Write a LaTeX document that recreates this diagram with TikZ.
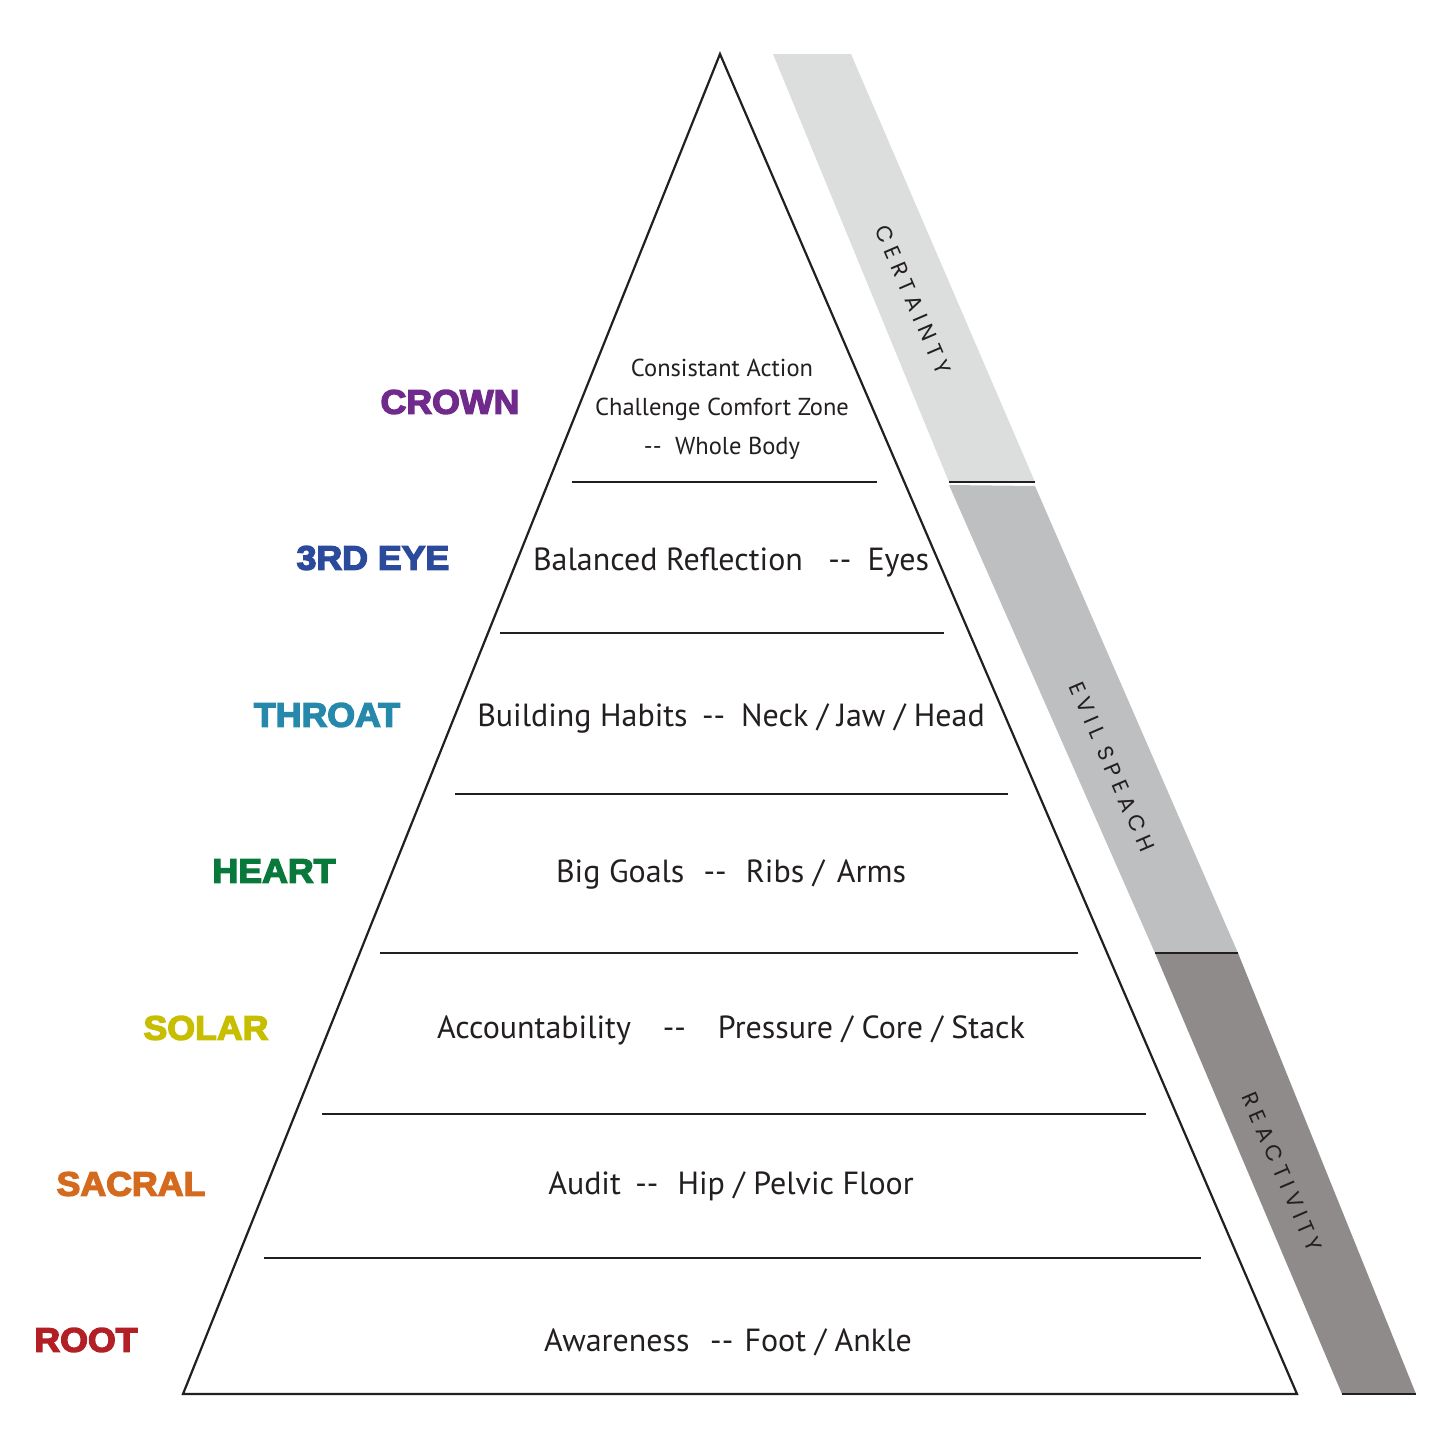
\documentclass[tikz,border=0pt]{standalone}
\usepackage{fontspec}
\setmainfont{PT Sans}
\newfontfamily\labfont[FakeBold=4,FakeStretch=1.05]{Liberation Sans Bold}
\newfontfamily\bandfont[LetterSpace=26]{Poppins}
\definecolor{ink}{HTML}{231F20}
\definecolor{bandA}{HTML}{DCDDDD}
\definecolor{bandB}{HTML}{BEBFC1}
\definecolor{bandC}{HTML}{8E8B8A}
\definecolor{cCrown}{HTML}{6F2A8B}
\definecolor{cEye}{HTML}{2B4A9B}
\definecolor{cThroat}{HTML}{2688AA}
\definecolor{cHeart}{HTML}{08793A}
\definecolor{cSolar}{HTML}{C7BE00}
\definecolor{cSacral}{HTML}{D46A1E}
\definecolor{cRoot}{HTML}{B22025}
\newcommand\dd{-{}-}
\begin{document}
\begin{tikzpicture}[x=1pt,y=-1pt,
  edge/.style={draw=ink,line width=2.2pt,line join=miter},
  tier/.style={draw=ink,line width=2pt},
  main/.style={text=ink,font=\fontsize{32}{36}\selectfont,inner sep=0pt,anchor=center},
  small/.style={text=ink,font=\fontsize{24.5}{39}\selectfont,inner sep=0pt,align=center},
  chakra/.style={font=\labfont\fontsize{34}{40}\selectfont,inner sep=0pt},
  bandtxt/.style={text=ink,font=\bandfont\fontsize{22}{24}\selectfont,inner sep=0pt,rotate=-66.7}]
\useasboundingbox (0,0) rectangle (1430,1440);
\fill[white] (0,0) rectangle (1430,1440);
% bands
\fill[bandA] (773,54) -- (851,54) -- (1035,482) -- (949,482) -- cycle;
\fill[bandB] (949,485) -- (1035,486) -- (1238,953) -- (1155,953) -- cycle;
\fill[bandC] (1155,953) -- (1238,953) -- (1416,1394) -- (1342,1394) -- cycle;
\coordinate (b1l) at (949,482); \coordinate (b1r) at (1035,482);
\coordinate (b2l) at (1155,953); \coordinate (b2r) at (1238,953);
\coordinate (b3l) at (1342,1394); \coordinate (b3r) at (1416,1394);
\draw[tier] (b1l) -- (b1r);
\draw[tier] (b2l) -- (b2r);
\draw[tier] (b3l) -- (b3r);
\node[bandtxt] (cert) at (913,300) {CERTAINTY};
\node[bandtxt] (evil) at (1112,767) {EVIL SPEACH};
\node[bandtxt] (react) at (1282,1172) {REACTIVITY};
% pyramid
\coordinate (apex) at (720,54);
\coordinate (bl) at (183,1394);
\coordinate (br) at (1297,1394);
\draw[edge] (apex) -- (br) -- (bl) -- cycle;
% tiers
\coordinate (t1a) at (572,482);  \coordinate (t1b) at (877,482);
\coordinate (t2a) at (500,633);  \coordinate (t2b) at (944,633);
\coordinate (t3a) at (455,794);  \coordinate (t3b) at (1008,794);
\coordinate (t4a) at (380,953);  \coordinate (t4b) at (1078,953);
\coordinate (t5a) at (322,1114); \coordinate (t5b) at (1146,1114);
\coordinate (t6a) at (264,1258); \coordinate (t6b) at (1201,1258);
\draw[tier] (t1a) -- (t1b);
\draw[tier] (t2a) -- (t2b);
\draw[tier] (t3a) -- (t3b);
\draw[tier] (t4a) -- (t4b);
\draw[tier] (t5a) -- (t5b);
\draw[tier] (t6a) -- (t6b);
% texts
\node[small] (crowntxt) at (722,409) {Consistant Action\\Challenge Comfort Zone\\\dd\hspace{0.55em}Whole Body};
\node[main] (eyetxt) at (731,562) {Balanced Reflection\hspace{0.8em}\dd\hspace{0.5em}Eyes};
\node[main] (throattxt) at (731,718) {Building Habits\hspace{0.45em}\dd\hspace{0.5em}Neck / Jaw / Head};
\node[main] (hearttxt) at (731,874) {Big Goals\hspace{0.6em}\dd\hspace{0.6em}Ribs /\hspace{0.4em}Arms};
\node[main] (solartxt) at (731,1030) {Accountability\hspace{1em}\dd\hspace{1em}Pressure / Core / Stack};
\node[main] (sacraltxt) at (731,1186) {Audit\hspace{0.45em}\dd\hspace{0.6em}Hip / Pelvic Floor};
\node[main] (roottxt) at (728,1342) {Awareness\hspace{0.65em}\dd\hspace{0.35em}Foot / Ankle};
% chakra labels
\node[chakra,text=cCrown] (crown) at (450,402) {CROWN};
\node[chakra,text=cEye] (eye) at (373,558) {3RD EYE};
\node[chakra,text=cThroat] (throat) at (327,715) {THROAT};
\node[chakra,text=cHeart] (heart) at (274,871) {HEART};
\node[chakra,text=cSolar] (solar) at (206,1028) {SOLAR};
\node[chakra,text=cSacral] (sacral) at (131,1184) {SACRAL};
\node[chakra,text=cRoot] (root) at (86,1340) {ROOT};
\end{tikzpicture}
\end{document}
